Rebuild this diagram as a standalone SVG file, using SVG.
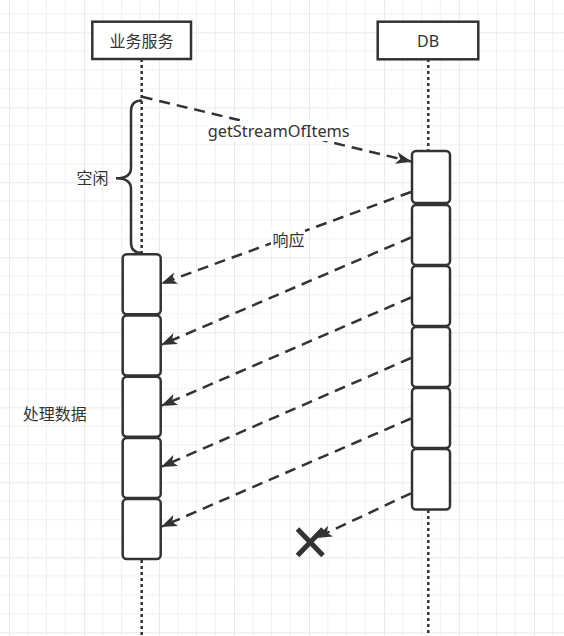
<svg xmlns="http://www.w3.org/2000/svg" width="564" height="636" viewBox="0 0 564 636">
<style>
.box{fill:#fff;stroke:#333;stroke-width:2.5}
.act{fill:#fff;stroke:#333;stroke-width:2.5}
.life{fill:none;stroke:#333;stroke-width:2.5;stroke-dasharray:3 3}
.msg{fill:none;stroke:#333;stroke-width:2.5;stroke-dasharray:11 7}
.t{font-family:"Noto Sans CJK SC","Noto Sans",sans-serif;font-size:16px;fill:#333}
.tl{font-family:"Noto Sans","Noto Sans CJK SC",sans-serif;font-size:16px;fill:#333}
</style>
<defs>
<pattern id="grid" x="9" y="32.3" width="75" height="75" patternUnits="userSpaceOnUse">
<path d="M0 18.75H75M0 37.5H75M0 56.25H75M18.75 0V75M37.5 0V75M56.25 0V75" stroke="#f0f0f0" stroke-width="1" fill="none"/>
<path d="M0 0H75M0 0V75" stroke="#e4e4e4" stroke-width="1.5" fill="none"/>
</pattern>
<marker id="arr" viewBox="0 0 16 12" refX="15" refY="6" markerWidth="16" markerHeight="12" markerUnits="userSpaceOnUse" orient="auto">
<path d="M0 0L16 6L0 12L4 6Z" fill="#333"/>
</marker>
</defs>
<rect width="564" height="636" fill="#fff"/>
<rect width="564" height="636" fill="url(#grid)"/>

<g id="lifelines">
<line class="life" x1="141.7" y1="59" x2="141.7" y2="254"/>
<line class="life" x1="141.7" y1="560" x2="141.7" y2="636"/>
<line class="life" x1="428.3" y1="59" x2="428.3" y2="151"/>
<line class="life" x1="428.3" y1="510" x2="428.3" y2="636"/>
</g>

<g id="node-service">
<rect class="box" x="92.3" y="21.7" width="98.7" height="37.3"/>
<text class="t" x="141.6" y="46.5" text-anchor="middle">业务服务</text>
</g>
<g id="node-db">
<rect class="box" x="377.7" y="21.7" width="100.6" height="37.6"/>
<text class="tl" x="428" y="46.7" text-anchor="middle">DB</text>
</g>

<g id="idle-brace">
<path d="M142 100.5Q131 100.5 131 111V168Q131 178.3 116 178.3Q131 178.3 131 189V242.5Q131 253 142 253" fill="none" stroke="#333" stroke-width="2.5"/>
<text class="t" x="76.5" y="184">空闲</text>
</g>

<g id="service-activations">
<rect class="act" x="122.7" y="254.3" width="38" height="60" rx="4"/>
<rect class="act" x="122.7" y="315.5" width="38" height="60" rx="4"/>
<rect class="act" x="122.7" y="376.7" width="38" height="60" rx="4"/>
<rect class="act" x="122.7" y="437.9" width="38" height="60" rx="4"/>
<rect class="act" x="122.7" y="499.1" width="38" height="60" rx="4"/>
</g>
<text class="t" x="22.7" y="420">处理数据</text>

<g id="db-activations">
<rect class="act" x="412" y="151" width="38" height="52" rx="4"/>
<rect class="act" x="412" y="205" width="38" height="60" rx="4"/>
<rect class="act" x="412" y="266" width="38" height="60" rx="4"/>
<rect class="act" x="412" y="327" width="38" height="60" rx="4"/>
<rect class="act" x="412" y="388" width="38" height="60" rx="4"/>
<rect class="act" x="412" y="449" width="38" height="60.5" rx="4"/>
</g>

<g id="connectors">
<line class="msg" x1="141.7" y1="96.7" x2="411" y2="161.5" marker-end="url(#arr)"/>
<line class="msg" x1="411" y1="192" x2="162" y2="283.3" marker-end="url(#arr)"/>
<line class="msg" x1="411" y1="237.5" x2="162" y2="344.5" marker-end="url(#arr)"/>
<line class="msg" x1="411" y1="297.5" x2="162" y2="405.5" marker-end="url(#arr)"/>
<line class="msg" x1="411" y1="358" x2="162" y2="466.5" marker-end="url(#arr)"/>
<line class="msg" x1="411" y1="418.5" x2="162" y2="526.5" marker-end="url(#arr)"/>
<line class="msg" x1="411" y1="493.3" x2="317" y2="537.5" marker-end="url(#arr)"/>
</g>

<g id="labels">
<rect x="206" y="121" width="146" height="20" fill="#fff"/>
<text class="tl" x="207.7" y="136.5" textLength="142" lengthAdjust="spacingAndGlyphs">getStreamOfItems</text>
<rect x="271" y="230" width="34" height="19" fill="#fff"/>
<text class="t" x="272.5" y="246">响应</text>
</g>

<g id="destroy">
<path d="M297.5 529L323 555.5M323 529L297.5 555.5" stroke="#333" stroke-width="5" fill="none"/>
</g>
</svg>
